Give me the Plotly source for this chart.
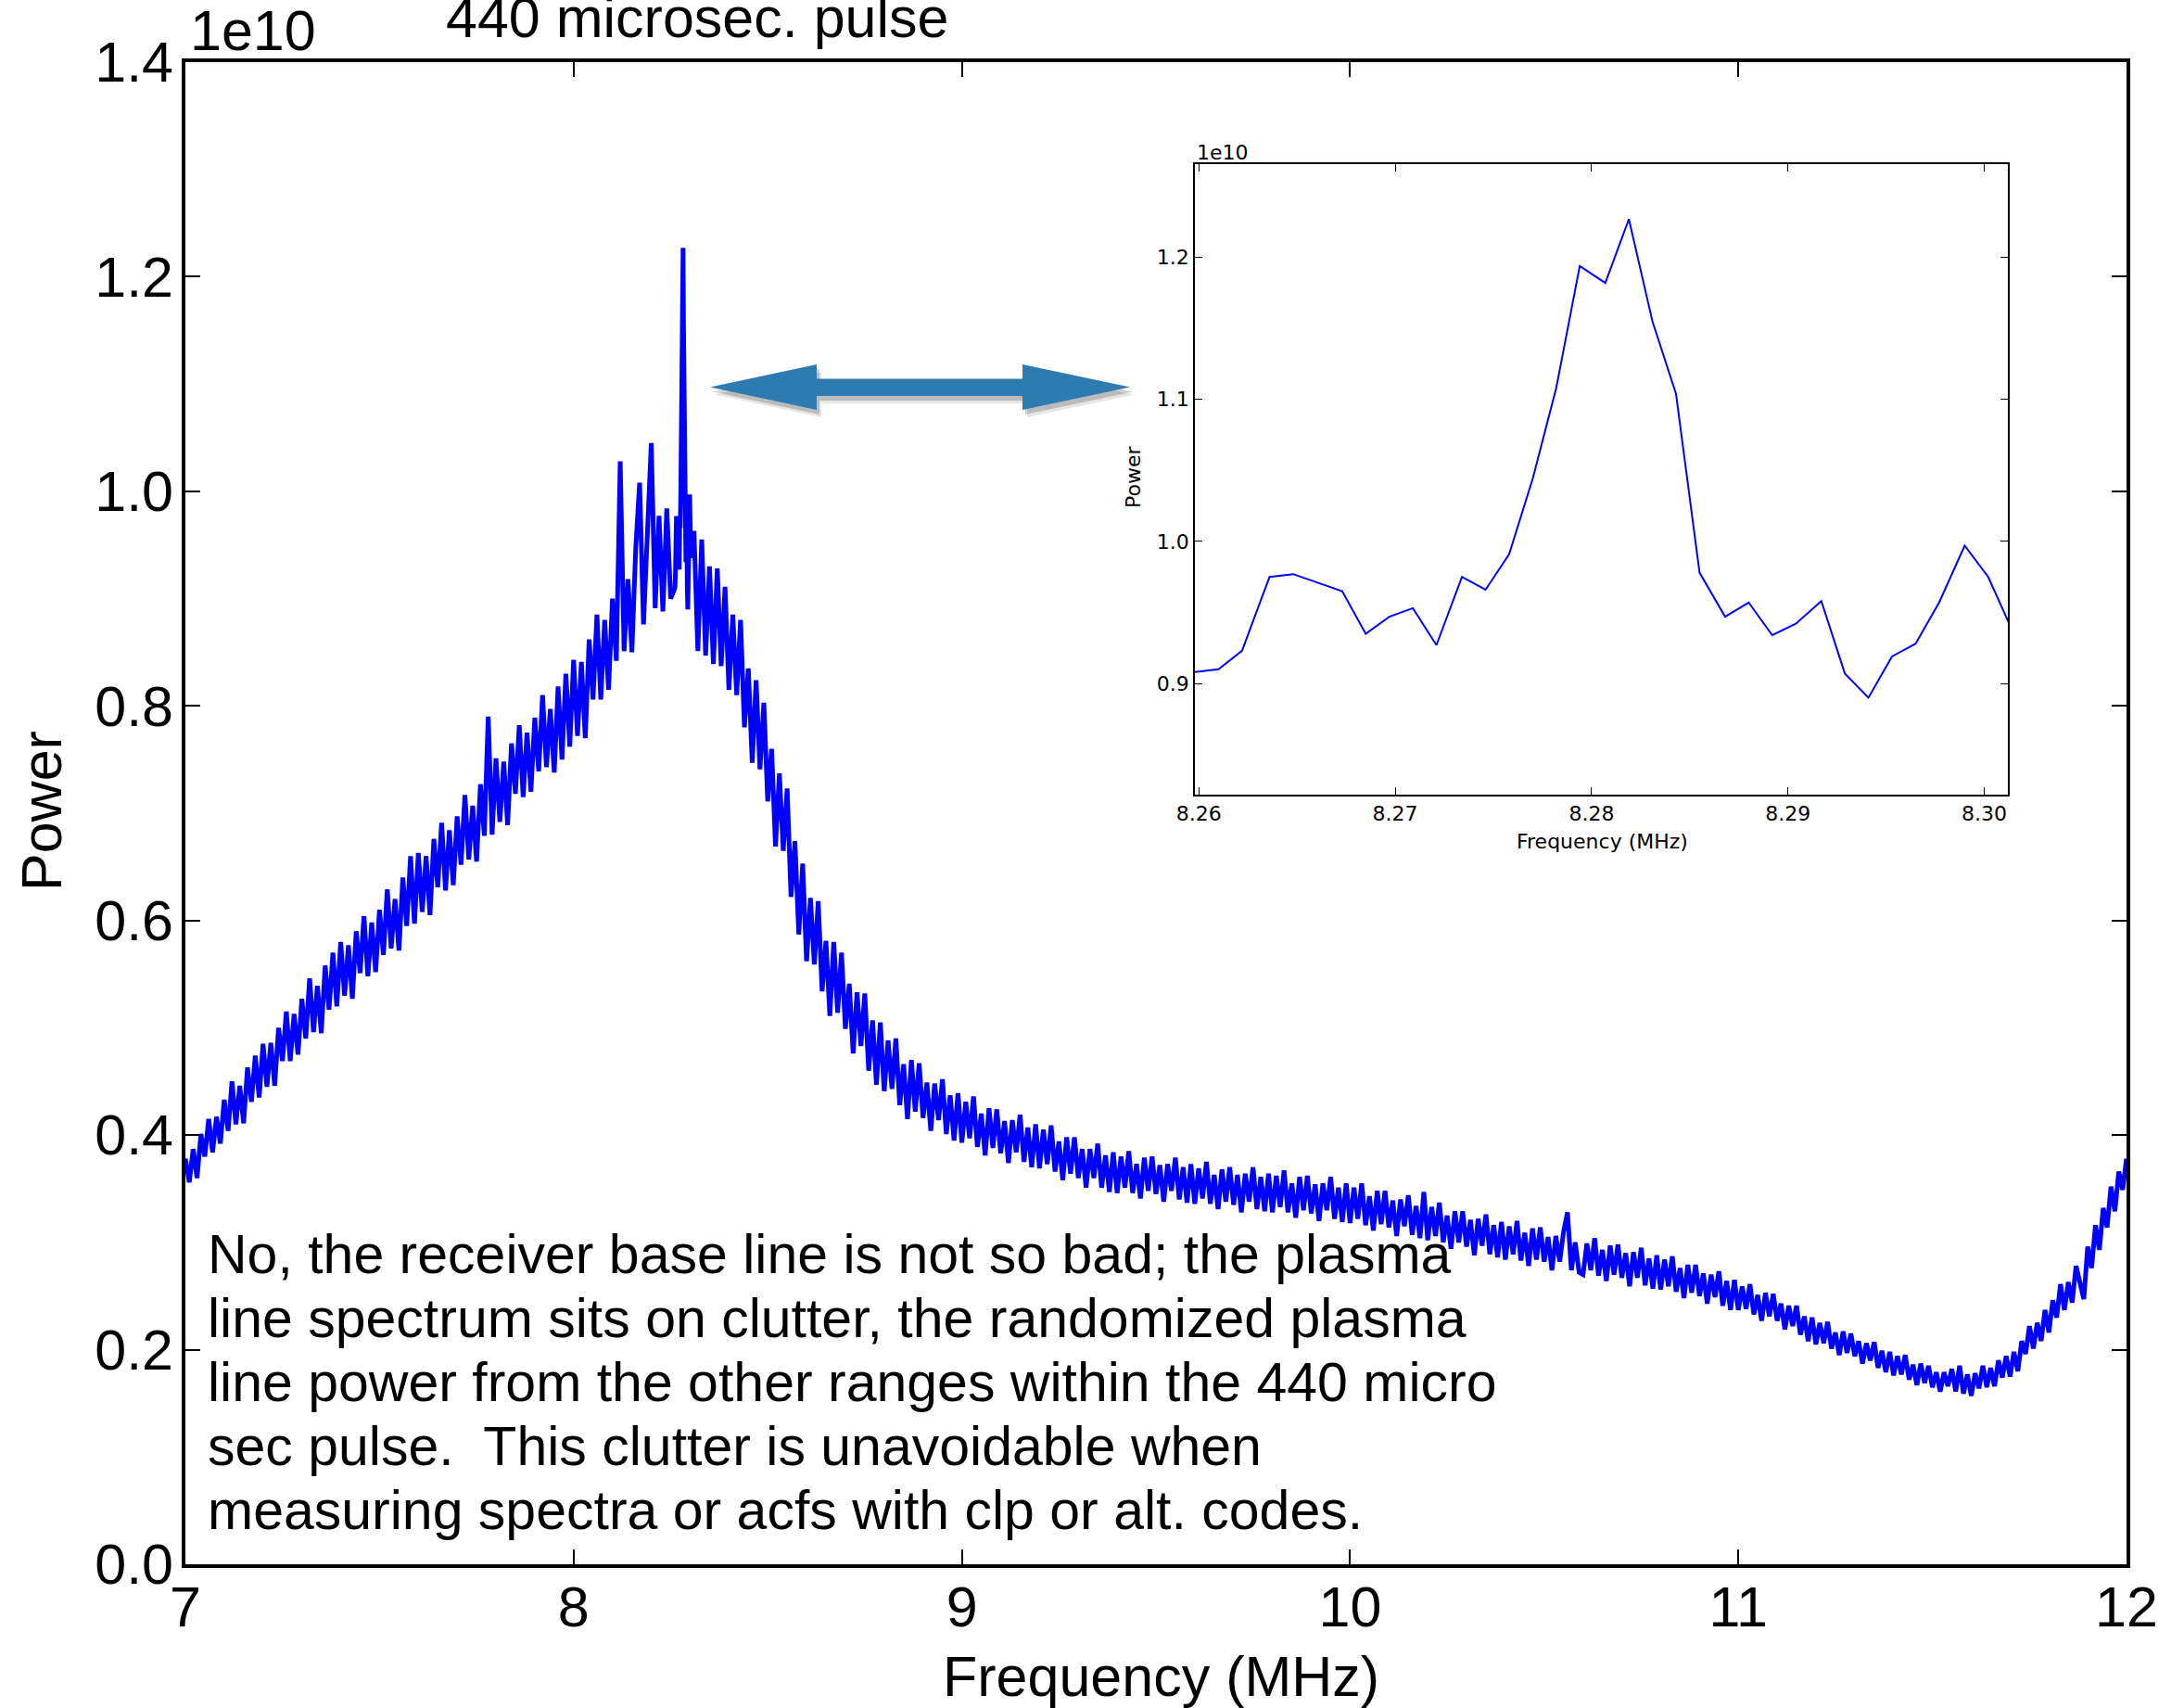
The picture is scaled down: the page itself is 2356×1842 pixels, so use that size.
import numpy as np
import plotly.graph_objects as go

W, H = 2356, 1842

power_main = [
    .378, .356, .387, .360, .401, .380, .415, .384, .417, .392,
    .433, .404, .450, .410, .446, .411, .463, .431, .474, .435,
    .485, .445, .486, .446, .500, .469, .515, .469, .513, .475,
    .527, .490, .546, .496, .539, .495, .558, .517, .570, .520,
    .580, .530, .577, .527, .590, .551, .604, .548, .598, .552,
    .610, .568, .629, .574, .620, .572, .640, .595, .660, .597,
    .663, .608, .660, .605, .676, .631, .691, .628, .684, .633,
    .697, .652, .717, .657, .707, .655, .727, .679, .790, .680,
    .751, .692, .748, .689, .765, .718, .782, .715, .775, .720,
    .789, .739, .810, .743, .797, .738, .818, .750, .830, .762,
    .843, .772, .841, .770, .862, .806, .885, .806, .880, .815,
    .900, .842, 1.028, .851, .918, .850, .947, 1.008, .876, .968,
    1.045, .891, .977, .888, .984, .900, .950, .935, .960, .945,
    .965, .963, .851, .955, .847, .930, .839, .928, .837, .911,
    .815, .885, .810, .880, .780, .835, .747, .824, .741, .803,
    .711, .760, .669, .737, .665, .723, .622, .674, .587, .653,
    .562, .621, .559, .618, .534, .581, .511, .580, .514, .570,
    .499, .541, .476, .533, .483, .532, .460, .507, .447, .505,
    .441, .488, .443, .490, .428, .466, .415, .470, .422, .467,
    .416, .449, .404, .448, .414, .452, .401, .437, .395, .439,
    .393, .431, .397, .436, .389, .420, .381, .425, .388, .424,
    .383, .413, .374, .414, .384, .419, .375, .407, .370, .410,
    .369, .405, .373, .409, .366, .394, .358, .398, .364, .398,
    .360, .387, .351, .387, .360, .392, .351, .381, .347, .384,
    .346, .380, .351, .385, .346, .373, .341, .379, .348, .380,
    .345, .372, .338, .373, .348, .379, .340, .370, .337, .373,
    .336, .369, .341, .375, .336, .363, .331, .368, .338, .370,
    .335, .363, .328, .364, .338, .370, .331, .361, .329, .364,
    .328, .362, .333, .367, .328, .355, .323, .361, .330, .362,
    .327, .354, .320, .355, .330, .361, .322, .351, .319, .355,
    .318, .351, .322, .355, .316, .343, .311, .348, .317, .348,
    .314, .339, .306, .340, .315, .344, .307, .334, .304, .347,
    .302, .333, .306, .337, .300, .325, .294, .329, .300, .329,
    .296, .321, .288, .322, .297, .326, .289, .316, .286, .319,
    .284, .315, .289, .320, .283, .309, .278, .313, .284, .314,
    .282, .305, .274, .306, .282, .310, .328, .274, .300, .272,
    .270, .299, .274, .304, .269, .293, .264, .297, .270, .298,
    .267, .290, .259, .291, .267, .295, .260, .285, .257, .288,
    .256, .284, .259, .287, .254, .276, .248, .279, .253, .279,
    .250, .271, .243, .270, .249, .273, .241, .264, .237, .265,
    .237, .259, .238, .261, .233, .251, .227, .253, .231, .252,
    .227, .243, .219, .241, .222, .241, .214, .231, .208, .230,
    .205, .225, .206, .226, .201, .216, .195, .217, .197, .215,
    .194, .208, .187, .206, .190, .207, .183, .199, .179, .198,
    .176, .194, .177, .195, .172, .186, .167, .187, .169, .185,
    .165, .179, .161, .179, .166, .182, .161, .185, .159, .177,
    .157, .178, .164, .185, .165, .183, .166, .190, .174, .194,
    .175, .198, .180, .208, .196, .222, .201, .225, .208, .237,
    .216, .246, .230, .261, .237, .263, .244, .278, .260, .247,
    .296, .276, .316, .293, .332, .314, .352, .329, .366, .349,
    .378,
]

# zoomed-in samples around the plasma line (inset)
inset_freq = [8.2598, 8.2610, 8.2622, 8.2636, 8.2648, 8.2661, 8.2673, 8.2685, 8.2697,
              8.2709, 8.2721, 8.2734, 8.2746, 8.2758, 8.2770, 8.2782, 8.2794, 8.2807,
              8.2819, 8.2831, 8.2843, 8.2855, 8.2868, 8.2880, 8.2892, 8.2904, 8.2917,
              8.2929, 8.2941, 8.2953, 8.2965, 8.2977, 8.2990, 8.3002, 8.3014]
inset_power = [0.908, 0.910, 0.923, 0.975, 0.977, 0.971, 0.965, 0.935, 0.947,
               0.953, 0.927, 0.975, 0.966, 0.991, 1.044, 1.108, 1.194, 1.182,
               1.227, 1.155, 1.104, 0.978, 0.947, 0.957, 0.934, 0.942, 0.958,
               0.907, 0.890, 0.919, 0.928, 0.957, 0.997, 0.975, 0.938]

main_xticks = [7, 8, 9, 10, 11, 12]
main_yticks = [0.0, 0.2, 0.4, 0.6, 0.8, 1.0, 1.2, 1.4]
inset_xticks = [8.26, 8.27, 8.28, 8.29, 8.30]
inset_yticks = [0.9, 1.0, 1.1, 1.2]

note_lines = [
    "No, the receiver base line is not so bad; the plasma",
    "line spectrum sits on clutter, the randomized plasma",
    "line power from the other ranges within the 440 micro",
    "sec pulse.  This clutter is unavoidable when",
    "measuring spectra or acfs with clp or alt. codes.",
]

# merge the coarse spectrum with the fine samples of the spike
freq_grid = np.round(7 + 0.01 * np.arange(len(power_main)), 2)
keep = (freq_grid < inset_freq[0]) | (freq_grid > inset_freq[-1])
freq_all = np.concatenate([freq_grid[keep], inset_freq])
power_all = np.concatenate([np.array(power_main)[keep], inset_power])
order = np.argsort(freq_all)
freq_all, power_all = freq_all[order], power_all[order]


def px(x):
    return x / W


def py(y):
    return 1 - y / H


MAIN_FONT = "Liberation Sans, Arial, sans-serif"
INSET_FONT = "DejaVu Sans, sans-serif"

fig = go.Figure()

fig.add_trace(go.Scatter(x=freq_all, y=power_all, mode="lines",
                         line=dict(color="#0000ff", width=5),
                         xaxis="x", yaxis="y", showlegend=False))
fig.add_trace(go.Scatter(x=inset_freq, y=inset_power, mode="lines",
                         line=dict(color="#0000ff", width=2),
                         xaxis="x2", yaxis="y2", showlegend=False))

main_axis = dict(showgrid=False, zeroline=False, showline=True, linecolor="black",
                 linewidth=3.5, mirror="ticks", ticks="inside", ticklen=16,
                 tickwidth=1.5, tickcolor="black", automargin=False,
                 tickfont=dict(family=MAIN_FONT, size=61, color="black"))
inset_axis = dict(showgrid=False, zeroline=False, showline=True, linecolor="black",
                  linewidth=1.5, mirror="ticks", ticks="inside", ticklen=8,
                  tickwidth=1, tickcolor="black", automargin=False,
                  tickfont=dict(family=INSET_FONT, size=22, color="black"))

fig.update_layout(
    width=W, height=H,
    margin=dict(l=0, r=0, t=0, b=0, pad=0, autoexpand=False),
    paper_bgcolor="white", plot_bgcolor="#ffffff",
    xaxis=dict(main_axis, domain=[px(200), px(2294)], range=[7, 12],
               tickvals=main_xticks, ticktext=[str(v) for v in main_xticks],
               ticklabelstandoff=-10, anchor="y"),
    yaxis=dict(main_axis, domain=[py(1687), py(67)], range=[0, 1.4],
               tickvals=main_yticks, ticktext=[f"{v:.1f}" for v in main_yticks],
               ticklabelstandoff=-3, anchor="x"),
    xaxis2=dict(inset_axis, domain=[px(1289), px(2166)], range=[8.2598, 8.3012],
                tickvals=inset_xticks, ticktext=[f"{v:.2f}" for v in inset_xticks],
                anchor="y2"),
    yaxis2=dict(inset_axis, domain=[py(857), py(177)], range=[0.8217, 1.2657],
                tickvals=inset_yticks, ticktext=[f"{v:.1f}" for v in inset_yticks],
                anchor="x2"),
)

annotations = [
    dict(text="1e10", x=px(203), y=py(33), xanchor="left", yanchor="middle",
         font=dict(family=MAIN_FONT, size=61)),
    dict(text="440 microsec. pulse", x=px(752), y=py(19), xanchor="center",
         yanchor="middle", font=dict(family=MAIN_FONT, size=61)),
    dict(text="Power", x=px(45), y=py(875), textangle=-90, xanchor="center",
         yanchor="middle", font=dict(family=MAIN_FONT, size=61)),
    dict(text="Frequency (MHz)", x=px(1252), y=py(1808), xanchor="center",
         yanchor="middle", font=dict(family=MAIN_FONT, size=61)),
    dict(text="1e10", x=px(1289), y=py(164), xanchor="left", yanchor="middle",
         font=dict(family=INSET_FONT, size=22)),
    dict(text="Power", x=px(1222), y=py(515), textangle=-90, xanchor="center",
         yanchor="middle", font=dict(family=INSET_FONT, size=22)),
    dict(text="Frequency (MHz)", x=px(1728), y=py(907), xanchor="center",
         yanchor="middle", font=dict(family=INSET_FONT, size=22)),
]
for i, line in enumerate(note_lines):
    annotations.append(dict(text=line, x=px(222), y=py(1352.6 + 69.1 * i),
                            xanchor="left", yanchor="middle",
                            font=dict(family=MAIN_FONT, size=59)))
for a in annotations:
    a.update(xref="paper", yref="paper", showarrow=False)
    a["font"]["color"] = "black"
fig.update_layout(annotations=annotations)

# double-headed arrow pointing from the spike to the inset (pixel outline)
arrow_px = [(766, 417.5), (881, 393), (881, 408.5), (1103, 408.5), (1103, 393),
            (1219, 417.5), (1103, 442), (1103, 427), (881, 427), (881, 442)]


def arrow_path(dx=0, dy=0):
    pts = [f"{px(x + dx):.5f},{py(y + dy):.5f}" for x, y in arrow_px]
    return "M " + " L ".join(pts) + " Z"


shapes = [
    dict(type="path", path=arrow_path(5, 8), fillcolor="rgba(0,0,0,0.10)",
         line=dict(width=0)),
    dict(type="path", path=arrow_path(3, 5), fillcolor="rgba(0,0,0,0.18)",
         line=dict(width=0)),
    dict(type="path", path=arrow_path(), fillcolor="#2e7bb2",
         line=dict(width=0)),
]
for s in shapes:
    s.update(xref="paper", yref="paper", layer="above")
fig.update_layout(shapes=shapes)

fig.write_html("out.html", config={"displayModeBar": False},
               post_script="document.body.style.margin='0';")
